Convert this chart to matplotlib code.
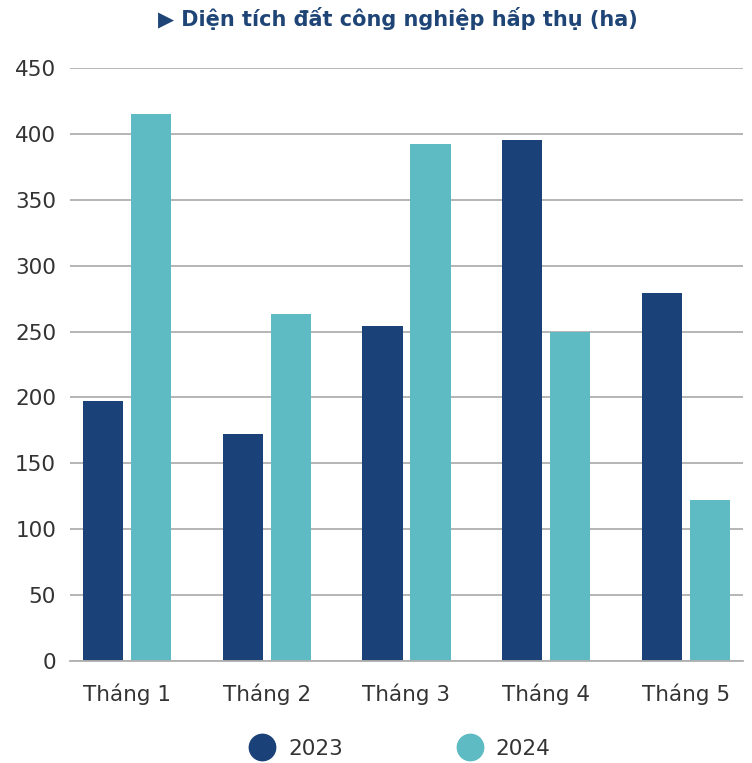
import matplotlib
matplotlib.use("Agg")
import matplotlib.pyplot as plt
import numpy as np
from matplotlib.lines import Line2D

categories = ["Tháng 1", "Tháng 2", "Tháng 3", "Tháng 4", "Tháng 5"]
series_names = ["2023", "2024"]
values_2023 = [197, 172, 254, 395, 279]
values_2024 = [415, 263, 392, 250, 122]
yticks = [0, 50, 100, 150, 200, 250, 300, 350, 400, 450]
title = "▶ Diện tích đất công nghiệp hấp thụ (ha)"

c2023 = "#1B4278"
c2024 = "#5EBBC3"
text_col = "#333333"

plt.rcParams['font.family'] = ['DejaVu Sans']

fig = plt.figure(figsize=(7.52, 7.63), dpi=100)
ax = fig.add_axes([70/752, 1-661/763, 673/752, 593/763])

x = np.arange(len(categories))
w = 0.287
gap = 0.057
ax.bar(x - (w+gap)/2, values_2023, width=w, color=c2023, zorder=3)
ax.bar(x + (w+gap)/2, values_2024, width=w, color=c2024, zorder=3)

ax.set_xlim(-0.41, 4.41)
ax.set_ylim(0, 450)
ax.set_yticks(yticks)
ax.set_yticklabels([str(t) for t in yticks])
ax.set_xticks(x)
ax.set_xticklabels(categories)
ax.yaxis.grid(True, color="#b0b0b0", linewidth=1.3, zorder=0)
ax.set_axisbelow(True)
for s in ["top", "right", "left"]:
    ax.spines[s].set_visible(False)
ax.spines["bottom"].set_color("#b0b0b0")
ax.spines["bottom"].set_linewidth(1.3)
ax.spines["bottom"].set_zorder(4)
ax.tick_params(axis="both", length=0, labelsize=15.5, colors=text_col)
ax.tick_params(axis="x", pad=16)
ax.tick_params(axis="y", pad=10)

fig.text(398/752, 1-19/763, title, ha="center", va="center",
         fontsize=15, fontweight="bold", color="#1F4577")

handles = [Line2D([], [], marker="o", linestyle="none", markersize=19,
                  markerfacecolor=c, markeredgecolor=c) for c in (c2023, c2024)]
leg = fig.legend(handles, series_names, loc="center", bbox_to_anchor=(400/752, 1-749/763),
                 ncol=2, frameon=False, fontsize=15.5, handletextpad=0.6,
                 columnspacing=5.3, handlelength=1.2)
for t in leg.get_texts():
    t.set_color(text_col)

fig.savefig("out.png", dpi=100)
